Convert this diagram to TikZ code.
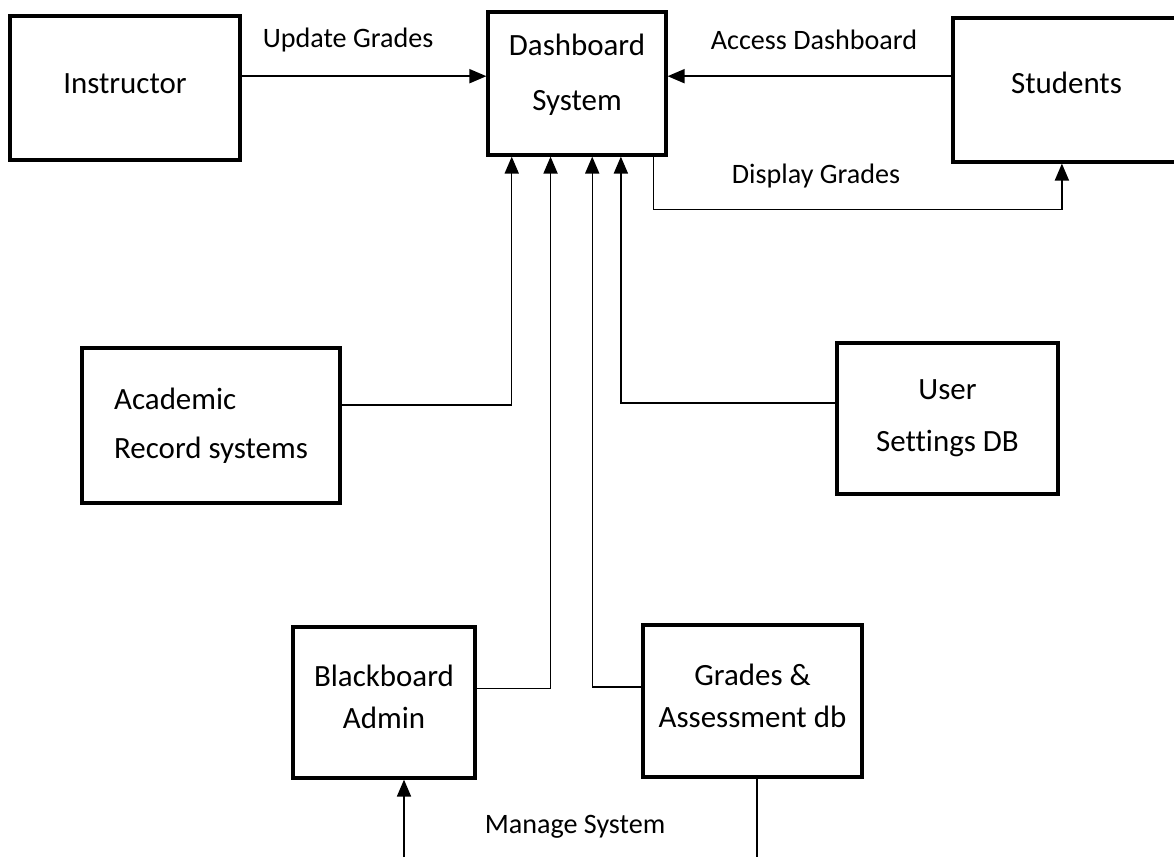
\documentclass[tikz,border=0pt]{standalone}
\usepackage{fontspec}
\setmainfont{Carlito}[Ligatures=NoCommon]
\usetikzlibrary{arrows.meta,positioning,calc}

\begin{document}
\begin{tikzpicture}[x=0.025cm, y=-0.025cm,
    entity/.style={rectangle, draw, line width=2.3pt, align=center, font=\fontsize{22}{32}\selectfont},
    flow/.style={-{Triangle[length=12pt,width=10pt]}, line width=1pt},
    link/.style={line width=1pt},
    flowlabel/.style={font=\fontsize{20}{24}\selectfont}]

    \useasboundingbox (0,0) rectangle (1174,857);

    % Top row
    \node[entity, minimum width=5.75cm, minimum height=3.6cm, text depth=7pt] (inst) at (125,88) {Instructor};
    \node[entity, minimum width=4.45cm, minimum height=3.575cm, text depth=16pt, font=\fontsize{22}{39}\selectfont] (dash) at (577,83.5) {Dashboard\\System};
    \node[entity, minimum width=5.675cm, minimum height=3.6cm, text depth=11pt] (stud) at (1066.5,90) {Students};

    % Middle row
    \node[entity, minimum width=6.45cm, minimum height=3.875cm, align=left, font=\fontsize{22}{35}\selectfont] (acad) at (211,425.5) {Academic\\Record systems};
    \node[entity, minimum width=5.525cm, minimum height=3.775cm, font=\fontsize{22}{37}\selectfont] (uset) at (947.5,418.5) {User\\Settings DB};

    % Bottom row
    \node[entity, minimum width=4.55cm, minimum height=3.775cm, text depth=8pt, font=\fontsize{22}{30}\selectfont] (bba) at (384,702.5) {Blackboard\\Admin};
    \node[entity, minimum width=5.475cm, minimum height=3.8cm, text depth=8pt, font=\fontsize{22}{30}\selectfont] (gad) at (752.5,701) {Grades \&\\Assessment db};

    % Labels
    \node[flowlabel] (updlbl) at (348,40) {Update Grades};
    \node[flowlabel] (acclbl) at (814,40) {Access Dashboard};
    \node[flowlabel] (displbl) at (816,176) {Display Grades};
    \node[flowlabel] (mgtlbl) at (575,827) {Manage System};

    % Arrows
    \coordinate (upd) at ($(dash.north west)!0.45!(dash.south west)$);
    \coordinate (acc) at ($(dash.north east)!0.45!(dash.south east)$);
    \draw[flow] (inst.east |- upd) -- (upd);
    \draw[flow] (stud.west |- acc) -- (acc);
    \draw[flow] ($(dash.south west)!0.921!(dash.south east)$) -- ++(0,53) -| ($(stud.south west)!0.48!(stud.south east)$);
    \draw[flow] ($(acad.north east)!0.37!(acad.south east)$) -| ($(dash.south west)!0.14!(dash.south east)$);
    \draw[flow] ($(bba.north east)!0.41!(bba.south east)$) -| ($(dash.south west)!0.354!(dash.south east)$);
    \draw[flow] ($(gad.north west)!0.41!(gad.south west)$) -| ($(dash.south west)!0.584!(dash.south east)$);
    \draw[flow] ($(uset.north west)!0.40!(uset.south west)$) -| ($(dash.south west)!0.742!(dash.south east)$);

    % Manage System
    \coordinate (mgin) at (404,857);
    \coordinate (mgout) at (757,857);
    \draw[flow] (mgin) -- (mgin |- bba.south);
    \draw[link] (mgout |- gad.south) -- (mgout);
\end{tikzpicture}
\end{document}
